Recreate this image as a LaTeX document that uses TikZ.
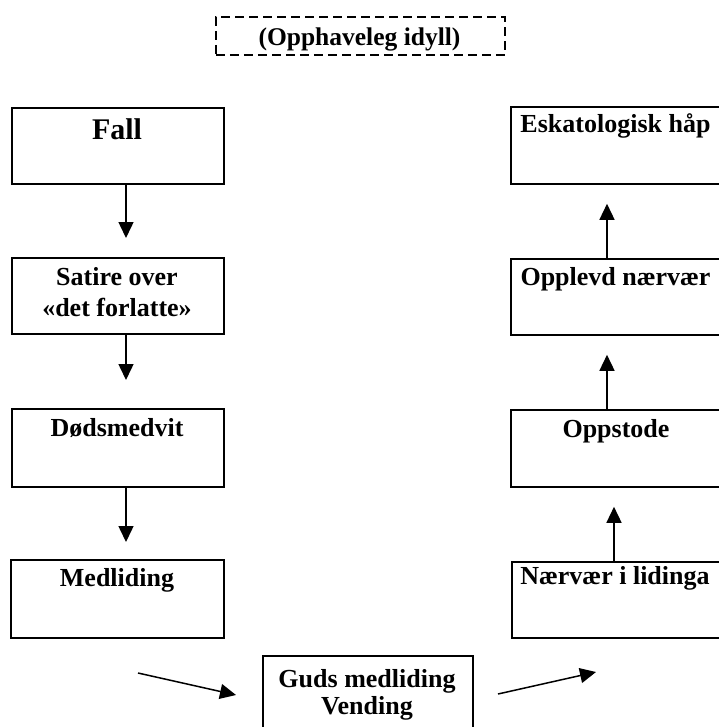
\documentclass[tikz,border=0pt]{standalone}
\usepackage{fontspec}
\setmainfont{Liberation Serif}
\usetikzlibrary{arrows.meta}
\begin{document}
\begin{tikzpicture}[x=1pt,y=-1pt,
  box/.style={draw=black,line width=1.8pt,rectangle,inner sep=0pt,anchor=north west},
  lbl/.style={anchor=base,inner sep=0pt,font=\fontsize{26}{31}\selectfont\bfseries,align=center},
  arr/.style={line width=1.5pt,-{Triangle[width=15pt,length=16pt]}}]
\useasboundingbox (0,0) rectangle (718,727);
% title
\node[box,dashed,dash pattern=on 9pt off 5pt,line width=1.6pt,minimum width=289,minimum height=38] (idyll) at (215,16) {};
\node[lbl,font=\fontsize{25.5}{30}\selectfont\bfseries] (idyllt) at (359.5,46) {(Opphaveleg idyll)};
% left column
\node[box,minimum width=212,minimum height=76] (fall) at (11,107) {};
\node[lbl,font=\fontsize{30}{34}\selectfont\bfseries] (fallt) at (117,140) {Fall};
\node[box,minimum width=212,minimum height=76] (satire) at (11,257) {};
\node[lbl] (satiret1) at (117,285) {Satire over};
\node[lbl] (satiret2) at (117,316) {«det forlatte»};
\node[box,minimum width=212,minimum height=78] (dod) at (11,408) {};
\node[lbl] (dodt) at (117,436) {Dødsmedvit};
\node[box,minimum width=213,minimum height=78] (med) at (10,559) {};
\node[lbl] (medt) at (117,586) {Medliding};
% right column
\node[box,minimum width=211,minimum height=77] (esk) at (510,106) {};
\node[lbl] (eskt) at (615.5,133) {Eskatologisk håp};
\node[box,minimum width=211,minimum height=76] (opp) at (510,258) {};
\node[lbl] (oppt) at (615.5,285) {Opplevd nærvær};
\node[box,minimum width=211,minimum height=77] (oppst) at (510,409) {};
\node[lbl] (oppstt) at (616,437) {Oppstode};
\node[box,minimum width=211,minimum height=76] (naer) at (511,561) {};
\node[lbl] (naert) at (615,584) {Nærvær i lidinga};
% bottom centre
\node[box,minimum width=210,minimum height=85] (guds) at (262,655) {};
\node[lbl] (gudst1) at (367,687) {Guds medliding};
\node[lbl] (gudst2) at (367,714) {Vending};
% coordinates for connector positions
\coordinate (lx) at (126,0);
\coordinate (rx) at (607,0);
\coordinate (rx2) at (614,0);
\coordinate (la) at (138,673);
\coordinate (lb) at (236,695);
\coordinate (ra) at (498,694);
\coordinate (rb) at (596,672);
% connectors
\draw[arr,shorten >=19pt] (fall.south -| lx) -- (satire.north -| lx);
\draw[arr,shorten >=28pt] (satire.south -| lx) -- (dod.north -| lx);
\draw[arr,shorten >=17pt] (dod.south -| lx) -- (med.north -| lx);
\draw[arr,shorten >=19pt] (opp.north -| rx) -- (esk.south -| rx);
\draw[arr,shorten >=19pt] (oppst.north -| rx) -- (opp.south -| rx);
\draw[arr,shorten >=19pt] (naer.north -| rx2) -- (oppst.south -| rx2);
\draw[arr] (la) -- (lb);
\draw[arr] (ra) -- (rb);
\end{tikzpicture}
\end{document}
